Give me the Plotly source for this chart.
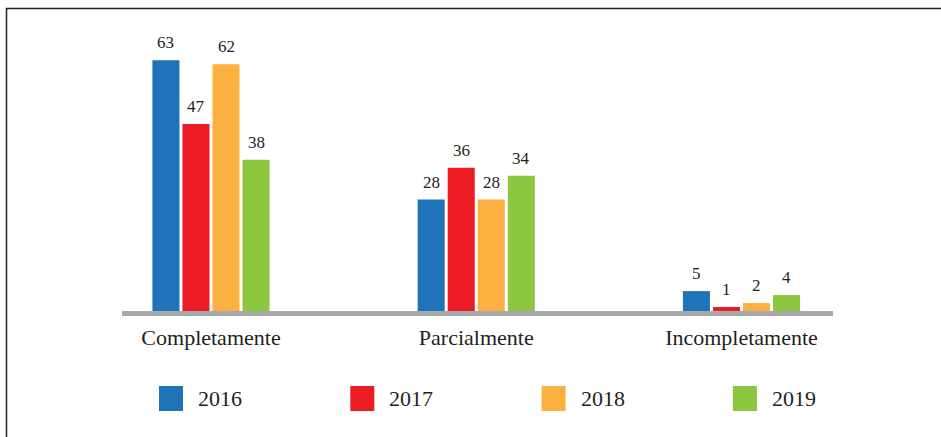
import plotly.graph_objects as go

categories = ["Completamente", "Parcialmente", "Incompletamente"]
series_names = ["2016", "2017", "2018", "2019"]
values_2016 = [63, 28, 5]
values_2017 = [47, 36, 1]
values_2018 = [62, 28, 2]
values_2019 = [38, 34, 4]
series_values = [values_2016, values_2017, values_2018, values_2019]
colors = ["#1f73b9", "#ed1c24", "#fbb040", "#8dc63f"]

W, H = 941, 437
ML, MR, MT, MB = 122, 108, 32, 126
PW = W - ML - MR
PH = H - MT - MB
YMAX = 70.1
XRANGE = [-0.3355, 2.345]
BARGAP = 0.547
GROUPGAP = 0.1
TXT = "#231f20"
FONT = "Liberation Serif, Times New Roman, serif"


def px_x(px):
    return (px - ML) / PW


def px_y(py):
    return (H - MB - py) / PH


fig = go.Figure()
for name, vals, col in zip(series_names, series_values, colors):
    fig.add_trace(go.Bar(x=categories, y=vals, name=name, marker_color=col,
                         marker_line_width=0, showlegend=False, hoverinfo="skip"))

# data labels above bars
cat_px = PW / (XRANGE[1] - XRANGE[0])
slot_px = cat_px * (1 - BARGAP) / len(series_names)
annotations = []
for j, vals in enumerate(series_values):
    for c, v in zip(categories, vals):
        annotations.append(dict(x=c, y=v, xref="x", yref="y", text=str(v),
                                showarrow=False, yanchor="bottom",
                                xshift=(j - 1.5) * slot_px, yshift=6,
                                font=dict(family=FONT, size=17, color=TXT)))

# manual legend
shapes = []
leg_y = 398.5
for i, (name, col) in enumerate(zip(series_names, colors)):
    x0 = 159 + i * 191.3
    shapes.append(dict(type="rect", xref="paper", yref="paper",
                       x0=px_x(x0), x1=px_x(x0 + 24),
                       y0=px_y(leg_y - 12.5), y1=px_y(leg_y + 12.5),
                       fillcolor=col, line=dict(width=0)))
    annotations.append(dict(x=px_x(x0 + 37), y=px_y(leg_y), xref="paper", yref="paper",
                            text=name, showarrow=False, xanchor="left", yanchor="middle",
                            font=dict(family=FONT, size=22, color=TXT)))

# baseline
shapes.append(dict(type="line", xref="paper", yref="paper", x0=0, x1=1,
                   y0=px_y(313.5), y1=px_y(313.5),
                   line=dict(color="#a7a9ac", width=5)))
# frame lines (top and left)
shapes.append(dict(type="line", xref="paper", yref="paper", x0=px_x(6), x1=px_x(W + 5),
                   y0=px_y(8.5), y1=px_y(8.5), line=dict(color="#231f20", width=1.5)))
shapes.append(dict(type="line", xref="paper", yref="paper", x0=px_x(6.5), x1=px_x(6.5),
                   y0=px_y(8), y1=px_y(H + 5), line=dict(color="#231f20", width=1.5)))

fig.update_layout(
    width=W, height=H,
    margin=dict(l=ML, r=MR, t=MT, b=MB, pad=0),
    paper_bgcolor="white", plot_bgcolor="white",
    barmode="group", bargap=BARGAP, bargroupgap=GROUPGAP,
    showlegend=False,
    hovermode=False,
    font=dict(family=FONT, color=TXT),
    xaxis=dict(range=XRANGE, showline=False, showgrid=False, zeroline=False,
               ticks="outside", ticklen=7, tickcolor="rgba(0,0,0,0)",
               tickfont=dict(family=FONT, size=22, color=TXT)),
    yaxis=dict(range=[0, YMAX], visible=False, showgrid=False, zeroline=False),
    shapes=shapes,
    annotations=annotations,
)

fig.write_html("out.html", config={"displayModeBar": False},
               post_script="document.body.style.margin='0px';")
